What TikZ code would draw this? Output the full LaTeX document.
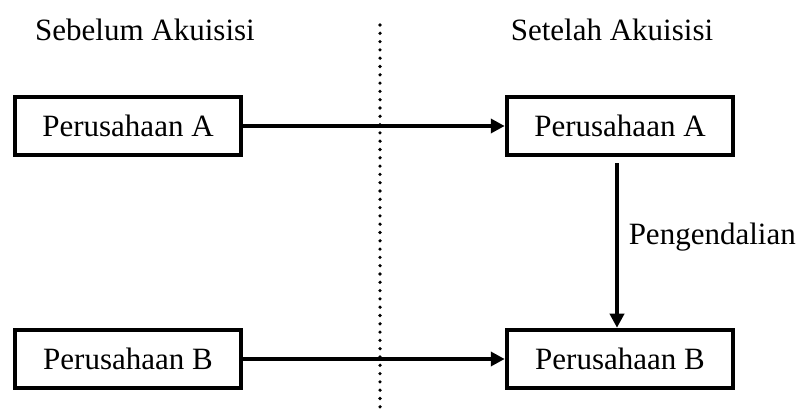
\documentclass[tikz,border=0pt]{standalone}
\usepackage{fontspec}
\setmainfont{Liberation Serif}
\usetikzlibrary{arrows.meta}
\begin{document}
\begin{tikzpicture}[x=1pt,y=-1pt,
  firm/.style={draw,line width=4.5pt,minimum width=226pt,minimum height=58pt,inner sep=0pt,font=\fontsize{31}{36}\selectfont},
  flow/.style={line width=3.5pt,-{Triangle[length=14pt,width=14pt]}},
  label/.style={font=\fontsize{31}{36}\selectfont,inner sep=0pt}]
\useasboundingbox (0,0) rectangle (804,414);
% phase headings
\node[label] (pre) at (145,30) {Sebelum Akuisisi};
\node[label] (post) at (612,30) {Setelah Akuisisi};
% dividing line
\coordinate (divtop) at (380,25);
\coordinate (divbot) at (380,414);
\draw[line width=3.6pt,line cap=round,dash pattern=on 0pt off 8.3pt] (divtop) -- (divbot);
% companies
\node[firm] (a1) at (128,126) {Perusahaan A};
\node[firm] (b1) at (128,359) {Perusahaan B};
\node[firm] (a2) at (620,126) {Perusahaan A};
\node[firm] (b2) at (620,359) {Perusahaan B};
% connectors
\draw[flow] (a1.east) -- (a2.west);
\draw[flow] (b1.east) -- (b2.west);
\draw[flow] ([xshift=-3pt,yshift=-6pt]a2.south) -- node[label,right=10pt,pos=0.45] {Pengendalian} ([xshift=-3pt]b2.north);
\end{tikzpicture}
\end{document}
